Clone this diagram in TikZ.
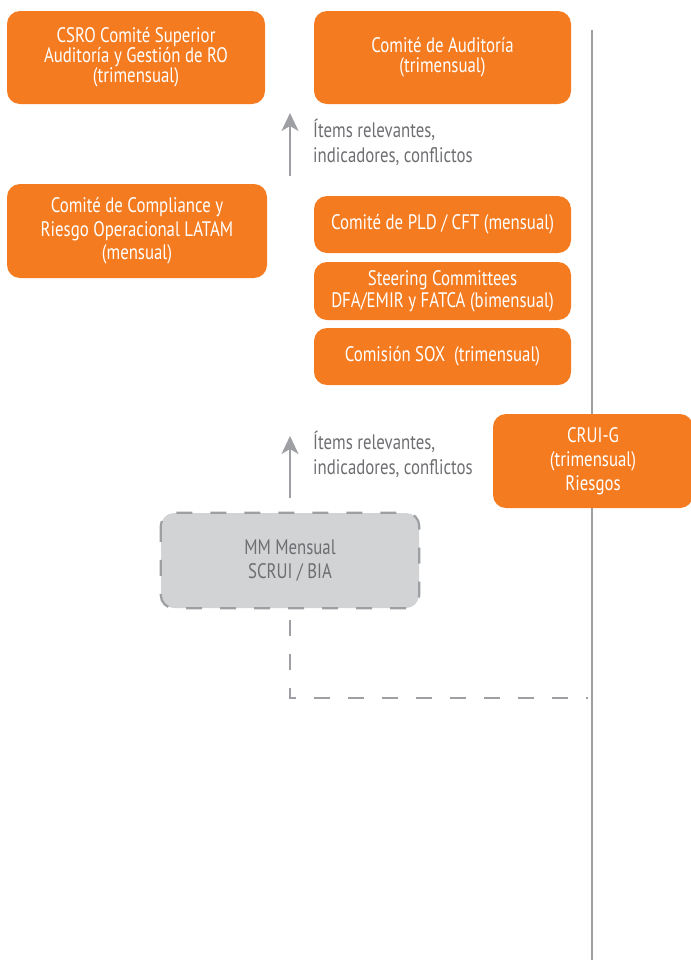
\documentclass[tikz,border=0pt]{standalone}
\usepackage{fontspec}
\setmainfont[FakeStretch=0.8]{PT Sans}
\usetikzlibrary{arrows.meta}
\definecolor{org}{HTML}{F47B20}
\definecolor{lgray}{HTML}{9D9FA2}
\definecolor{boxgray}{HTML}{D1D3D4}
\definecolor{tgray}{HTML}{6D6E71}
\tikzset{
  obox/.style={draw=none, fill=org, rounded corners=13pt, text=white, align=center,
    font=\fontsize{21}{20}\selectfont, inner sep=0pt},
  lbl/.style={text=tgray, align=left, anchor=north west, inner sep=0pt,
    font=\fontsize{21}{25}\selectfont},
  uparrow/.style={draw=lgray, line width=2pt, -{Stealth[length=18pt,width=17pt,inset=5pt]}},
  dline/.style={draw=lgray, line width=2.2pt, dash pattern=on 16pt off 18pt},
}
\begin{document}
\begin{tikzpicture}[x=1pt,y=-1pt]
\useasboundingbox (0,0) rectangle (691,962);
% vertical line
\coordinate (vtop) at (592,30);
\coordinate (vbot) at (592,960);
\draw[lgray, line width=1.8pt] (vtop) -- (vbot);
% boxes
\node[obox, minimum width=258pt, minimum height=93pt] (csro) at (136,57.5)
  {CSRO Comité Superior\\Auditoría y Gestión de RO\\(trimensual)};
\node[obox, minimum width=257pt, minimum height=93pt] (audit) at (442.5,57.5)
  {Comité de Auditoría\\(trimensual)};
\node[obox, minimum width=260pt, minimum height=94pt, font=\fontsize{21}{23.5}\selectfont] (comp) at (137,231)
  {Comité de Compliance y\\Riesgo Operacional LATAM\\(mensual)};
\node[obox, minimum width=257pt, minimum height=57pt] (pld) at (442.5,224.5)
  {Comité de PLD / CFT (mensual)};
\node[obox, minimum width=257pt, minimum height=58pt, font=\fontsize{21}{22}\selectfont] (steer) at (442.5,291)
  {Steering Committees\\DFA/EMIR y FATCA (bimensual)};
\node[obox, minimum width=257pt, minimum height=57pt] (sox) at (442.5,356.5)
  {Comisión SOX\ \ (trimensual)};
\node[obox, minimum width=200pt, minimum height=94pt, font=\fontsize{21}{24}\selectfont] (crui) at (593,461)
  {CRUI-G\\(trimensual)\\Riesgos};
% MM box
\node[fill=boxgray, rounded corners=13pt, minimum width=258pt, minimum height=95pt,
  text=tgray, align=center, inner sep=0pt, font=\fontsize{21}{24}\selectfont] (mm) at (290,560.5)
  {MM Mensual\\SCRUI / BIA};
\draw[dline, rounded corners=13pt] (mm.north west) rectangle (mm.south east);
% arrows
\coordinate (a1s) at (290,176);
\coordinate (a1e) at (290,113);
\draw[uparrow] (a1s) -- (a1e);
\node[lbl] (l1) at (313,119) {Ítems relevantes,\\indicadores, conflictos};
\coordinate (a2s) at (290,498);
\coordinate (a2e) at (290,436);
\draw[uparrow] (a2s) -- (a2e);
\node[lbl] (l2) at (313,431) {Ítems relevantes,\\indicadores, conflictos};
% dashed connector
\coordinate (dc) at (290,698);
\coordinate (de) at (588,698);
\draw[dline, line width=2pt] ([yshift=-12pt]mm.south) -- (dc) -- (de);
\end{tikzpicture}
\end{document}
